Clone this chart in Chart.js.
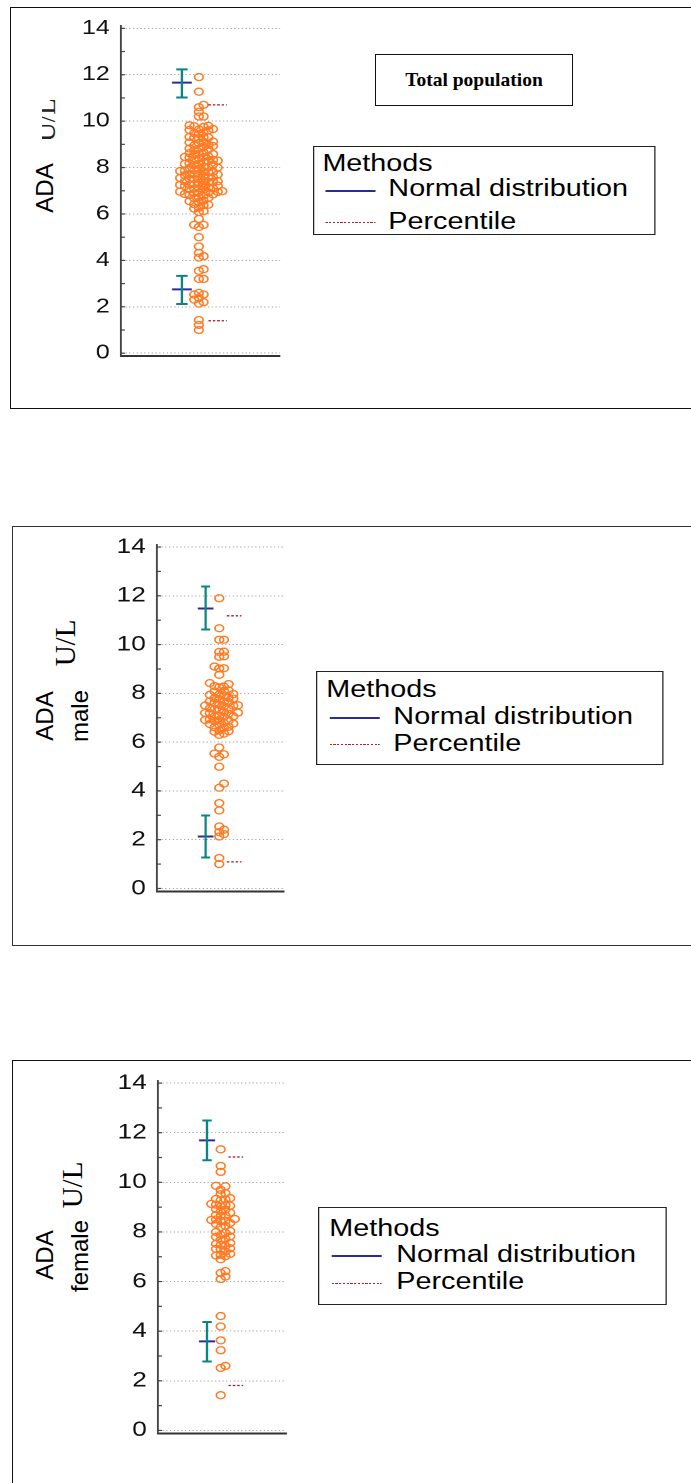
<!DOCTYPE html>
<html>
<head>
<meta charset="utf-8">
<title>ADA reference limits</title>
<script src="https://cdn.jsdelivr.net/npm/chart.js@4.4.1/dist/chart.umd.min.js"></script>
<style>
  html, body { margin: 0; padding: 0; background: #fff; overflow: hidden; }
  body { width: 691px; height: 1483px; position: relative; font-family: 'Liberation Sans', Arial, sans-serif; color: #000; }
  .frame { position: absolute; border: 1.5px solid #111; box-sizing: border-box; }
  .stretch { position: absolute; transform-origin: 0 0; transform: scaleX(1.25); }
  .legend { border: 1.5px solid #222; box-sizing: border-box; background: #fff; }
  .legend span { position: absolute; font-size: 23px; line-height: 1.117; white-space: nowrap; }
  .legend i { position: absolute; display: block; }
  .vlabel { position: absolute; transform: translate(-50%, -50%) rotate(-90deg); white-space: nowrap; }
  .sans { font-family: 'Liberation Sans', Arial, sans-serif; font-size: 24px; line-height: 1.117; }
  .serif { font-family: 'Liberation Serif', 'Times New Roman', serif; font-size: 29px; line-height: 1.107; }
  .clip { position: absolute; overflow: hidden; }
  .title { position: absolute; border: 1.5px solid #111; box-sizing: border-box; display: flex; align-items: center; justify-content: center; font: bold 19.5px 'Liberation Serif', 'Times New Roman', serif; }
</style>
</head>
<body>
<div class="frame" style="left:10px;top:7px;width:720px;height:401.5px"></div>
<div class="frame" style="left:12px;top:526px;width:720px;height:419.5px;border-color:#333"></div>
<div class="frame" style="left:12px;top:1060px;width:720px;height:600px"></div>

<div class="title" style="left:375px;top:54px;width:198px;height:52px">Total population</div>

<div class="vlabel sans" style="left:44.7px;top:188px">ADA</div>
<div class="clip" style="left:42px;top:85px;width:22px;height:70px">
  <div class="vlabel serif" style="left:5.2px;top:35px;font-size:27px;color:#222">U/L</div>
</div>

<div class="vlabel sans" style="left:44.7px;top:716px">ADA</div>
<div class="vlabel sans" style="left:79.7px;top:716px">male</div>
<div class="vlabel serif" style="left:65.2px;top:643px">U/L</div>

<div class="vlabel sans" style="left:44.7px;top:1255px">ADA</div>
<div class="vlabel sans" style="left:79.7px;top:1256px">female</div>
<div class="vlabel serif" style="left:72.2px;top:1185px">U/L</div>

<script>
// ADA activity (U/L), one dot per subject
const totalValues = [
  11.9, 11.27,
  10.7, 10.6, 10.4, 10.2, 10.2,
  9.82, 9.8, 9.78, 9.75,
  9.66, 9.64, 9.62, 9.6,
  9.5, 9.48, 9.45,
  9.32, 9.3, 9.3, 9.28, 9.25,
  9.12, 9.1, 9.08, 9.05,
  8.98, 8.95, 8.93, 8.9,
  8.82, 8.8, 8.78, 8.75,
  8.64, 8.62, 8.6, 8.58, 8.55,
  8.48, 8.46, 8.45, 8.43, 8.4,
  8.33, 8.3, 8.3, 8.28, 8.25,
  8.18, 8.16, 8.15, 8.13, 8.1,
  8.03, 8.0, 8.0, 7.98, 7.95,
  7.88, 7.86, 7.85, 7.84, 7.82, 7.8,
  7.73, 7.71, 7.7, 7.69, 7.67, 7.65,
  7.58, 7.56, 7.55, 7.54, 7.52, 7.5,
  7.43, 7.41, 7.4, 7.39, 7.37, 7.35,
  7.28, 7.26, 7.25, 7.24, 7.22, 7.2,
  7.13, 7.11, 7.1, 7.09, 7.07, 7.05,
  6.98, 6.96, 6.95, 6.94, 6.92, 6.9,
  6.86, 6.84, 6.82, 6.8,
  6.72, 6.7, 6.68,
  6.57, 6.55, 6.52,
  6.42, 6.4, 6.38,
  6.27, 6.23,
  6.12, 6.08,
  5.79, 5.53, 5.53, 5.44,
  5.0, 4.6, 4.32, 4.18, 4.12,
  3.62, 3.55, 3.2, 3.2,
  2.6, 2.53, 2.53, 2.38, 2.31, 2.2, 2.14,
  1.43, 1.22, 1.0
];

const maleValues = [
  11.9, 10.67, 10.2, 10.2, 9.71, 9.7, 9.52, 9.5, 9.1, 9.03, 9.02, 8.76,
  8.42, 8.38, 8.3, 8.28, 8.25,
  8.12, 8.1, 8.08,
  7.97, 7.95, 7.94, 7.92,
  7.82, 7.8, 7.79, 7.77,
  7.67, 7.65, 7.64, 7.62,
  7.53, 7.51, 7.5, 7.49, 7.47,
  7.38, 7.36, 7.35, 7.34,
  7.23, 7.21, 7.2, 7.19, 7.17,
  7.08, 7.06, 7.05, 7.04,
  6.93, 6.91, 6.9, 6.89, 6.87,
  6.78, 6.76, 6.74, 6.72,
  6.63, 6.61, 6.59,
  6.48, 6.45, 6.43,
  6.35, 6.3,
  5.78, 5.53, 5.5, 5.4, 4.99, 4.3, 4.13, 3.5, 3.2,
  2.54, 2.41, 2.31, 2.23, 2.13, 1.25, 1.0
];

const femaleValues = [
  11.33, 10.66, 10.42,
  9.86, 9.84, 9.7, 9.56, 9.52,
  9.36, 9.33, 9.31, 9.28,
  9.13, 9.1, 9.08, 9.06, 9.02,
  8.92, 8.9, 8.82, 8.78,
  8.68, 8.66, 8.64,
  8.52, 8.5, 8.48, 8.45, 8.43,
  8.36, 8.32, 8.24, 8.2,
  8.04, 8.0, 7.96,
  7.88, 7.82, 7.8,
  7.72, 7.68, 7.55, 7.52, 7.48, 7.44,
  7.34, 7.32, 7.3, 7.22,
  7.12, 7.08, 7.05, 7.02, 6.9,
  6.42, 6.35, 6.2, 6.1,
  4.61, 4.19, 3.63, 3.23, 2.6, 2.52, 1.42
];

// normal-distribution limits: [90% CI low, limit, 90% CI high]
const totalLowerLimit = [2.12, 2.75, 3.33];
const totalUpperLimit = [11.02, 11.66, 12.23];
const maleLowerLimit = [1.27, 2.13, 2.99];
const maleUpperLimit = [10.62, 11.48, 12.38];
const femaleLowerLimit = [2.78, 3.59, 4.37];
const femaleUpperLimit = [10.89, 11.69, 12.49];

// percentile limits: [2.5th, 97.5th]
const totalPercentiles = [1.4, 10.7];
const malePercentiles = [1.09, 11.18];
const femalePercentiles = [1.81, 11.02];

const yTicks = [0, 2, 4, 6, 8, 10, 12, 14];
const minorTickValues = [0, 1, 2, 3, 4, 5, 6, 7, 8, 9, 10, 11, 12, 13, 14];
const legendTitle = 'Methods';
const legendLabels = ['Normal distribution', 'Percentile'];

const SX = 1.25;        // the source figure is stretched sideways
const Y_AXIS_W = 60;    // canvas px kept for tick labels
const PAD_T = 14;
const PAD_B = 12;
const PAD_R = 8;
const DOT = '#ff7a22';
const TEAL = '#0f8383';
const BLUE = '#2c2c96';
const RED = '#9b1c1c';

// x positions as fractions of the plot width
const X_DOTS = 0.49;
const X_BAR = 0.383;
const CAP = 0.036;
const MEAN_HALF = 0.062;
const PCT_X = [0.55, 0.665];

const panels = [
  { values: totalValues, lower: totalLowerLimit, upper: totalUpperLimit, pct: totalPercentiles,
    axisLeft: 121, axisRight: 280, yTop: 25.7, yBottom: 356.1, yMin: -0.12, yMax: 14.1, tickSize: 20,
    legend: { left: 313, right: 655, top: 146, bottom: 235, textX: 389, titleX: 323, lineX: [326, 376],
      titleBase: 172, normLine: 191, normBase: 197, pctLine: 223, pctBase: 230 } },
  { values: maleValues, lower: maleLowerLimit, upper: maleUpperLimit, pct: malePercentiles,
    axisLeft: 157, axisRight: 284, yTop: 544.6, yBottom: 891.9, yMin: -0.12, yMax: 14.1, tickSize: 21,
    legend: { left: 316, right: 663, top: 671, bottom: 765, textX: 394, titleX: 327, lineX: [330, 381],
      titleBase: 698, normLine: 718, normBase: 725, pctLine: 745, pctBase: 752 } },
  { values: femaleValues, lower: femaleLowerLimit, upper: femaleUpperLimit, pct: femalePercentiles,
    axisLeft: 158, axisRight: 286, yTop: 1080.5, yBottom: 1433.3, yMin: -0.12, yMax: 14.1, tickSize: 21,
    legend: { left: 318, right: 667, top: 1207, bottom: 1305, textX: 397, titleX: 330, lineX: [332, 383],
      titleBase: 1237, normLine: 1256, normBase: 1263, pctLine: 1284, pctBase: 1290 } }
];

const minorTicks = {
  id: 'minorTicks',
  afterDraw(chart) {
    const { ctx, chartArea, scales } = chart;
    ctx.save();
    ctx.strokeStyle = '#444';
    ctx.lineWidth = 1.2;
    minorTickValues.forEach((v) => {
      const py = scales.y.getPixelForValue(v);
      ctx.beginPath();
      ctx.moveTo(chartArea.left - 1, py);
      ctx.lineTo(chartArea.left + 3, py);
      ctx.stroke();
    });
    ctx.restore();
  }
};

function seg(x1, y1, x2, y2, color, width, dash) {
  return {
    data: [{ x: x1, y: y1 }, { x: x2, y: y2 }],
    showLine: true, borderColor: color, borderWidth: width, borderDash: dash || [],
    pointRadius: 0, fill: false
  };
}

function limitMarks(limit) {
  const [lo, mid, hi] = limit;
  return [
    seg(X_BAR, lo, X_BAR, hi, TEAL, 1.8),
    seg(X_BAR - CAP, hi, X_BAR + CAP, hi, TEAL, 2),
    seg(X_BAR - CAP, lo, X_BAR + CAP, lo, TEAL, 2),
    seg(X_BAR - MEAN_HALF, mid, X_BAR + MEAN_HALF, mid, BLUE, 2)
  ];
}

// simple beeswarm: stack dots in columns, stepping out from the centre
function swarm(values, chart) {
  const xs = chart.scales.x, ys = chart.scales.y;
  const cx = xs.getPixelForValue(X_DOTS);
  const step = 4.7 / SX;
  const gap = 4.3;
  const placed = [];
  return [...values].sort((a, b) => a - b).map((v) => {
    const py = ys.getPixelForValue(v);
    let col = 0;
    for (let k = 0; k < 60; k += 1) {
      const c = k === 0 ? 0 : (k % 2 ? (k + 1) / 2 : -k / 2);
      if (!placed.some((p) => p.col === c && Math.abs(p.py - py) < gap)) { col = c; break; }
    }
    placed.push({ col, py });
    return { x: xs.getValueForPixel(cx + col * step), y: v };
  });
}

function chartConfig(p, padding, dots) {
  return {
    type: 'scatter',
    data: {
      datasets: [
        ...limitMarks(p.upper),
        ...limitMarks(p.lower),
        seg(PCT_X[0], p.pct[1], PCT_X[1], p.pct[1], RED, 1.3, [2, 1.5]),
        seg(PCT_X[0], p.pct[0], PCT_X[1], p.pct[0], RED, 1.3, [2, 1.5]),
        dots
      ]
    },
    options: {
      responsive: false,
      maintainAspectRatio: false,
      animation: false,
      devicePixelRatio: 2,
      events: [],
      layout: { padding },
      plugins: { legend: { display: false }, tooltip: { enabled: false } },
      scales: {
        x: {
          type: 'linear', min: 0, max: 1,
          ticks: { display: false },
          grid: { display: false },
          border: { display: true, color: '#333', width: 2 },
          afterFit: (s) => { s.height = 0; }
        },
        y: {
          type: 'linear', min: p.yMin, max: p.yMax,
          afterFit: (s) => { s.width = Y_AXIS_W; },
          afterBuildTicks: (s) => { s.ticks = yTicks.map((v) => ({ value: v })); },
          ticks: { color: '#111', padding: 9, font: { family: "'Liberation Sans', Arial, sans-serif", size: p.tickSize } },
          grid: { color: '#a3a3a3', lineWidth: 1, drawTicks: false },
          border: { display: true, color: '#444', width: 1.6, dash: [1, 2] }
        }
      }
    },
    plugins: [minorTicks]
  };
}

function newCanvas(wrap, w, h) {
  const canvas = document.createElement('canvas');
  canvas.width = w;
  canvas.height = h;
  wrap.appendChild(canvas);
  return canvas;
}

function buildChart(p) {
  const plotW = (p.axisRight - p.axisLeft) / SX;
  const plotH = p.yBottom - p.yTop;
  const w = Math.ceil(Y_AXIS_W + plotW + PAD_R);
  const h0 = Math.ceil(PAD_T + plotH + PAD_B);
  const padding = { top: PAD_T, left: 0, right: w - Y_AXIS_W - plotW, bottom: h0 - PAD_T - plotH };
  const wrap = document.createElement('div');
  wrap.className = 'stretch';
  wrap.style.left = (p.axisLeft - Y_AXIS_W * SX) + 'px';
  document.body.appendChild(wrap);

  // first pass: find how much room the axis labels take, then size the canvas to fit the plot
  let canvas = newCanvas(wrap, w, h0);
  let dots = { data: [] };
  let chart = new Chart(canvas, chartConfig(p, padding, dots));
  const area = chart.chartArea;
  const h = Math.round(h0 + plotH - (area.bottom - area.top));
  chart.destroy();
  canvas.remove();

  canvas = newCanvas(wrap, w, h);
  dots = {
    data: [], showLine: false, pointStyle: 'circle', pointRadius: 3.5, pointHoverRadius: 3.5,
    borderColor: DOT, pointBorderWidth: 1.3, backgroundColor: 'rgba(255,255,255,0)'
  };
  chart = new Chart(canvas, chartConfig(p, padding, dots));
  wrap.style.top = (p.yTop - chart.chartArea.top) + 'px';
  dots.data = swarm(p.values, chart);
  chart.update('none');
}

function buildLegend(b) {
  const box = document.createElement('div');
  box.className = 'stretch legend';
  box.style.left = b.left + 'px';
  box.style.top = b.top + 'px';
  box.style.width = ((b.right - b.left) / SX) + 'px';
  box.style.height = (b.bottom - b.top) + 'px';
  const lx = (x) => (x - b.left) / SX - 1.5;
  const ly = (y) => y - b.top - 1.5;
  const asc = 0.905 * 23;
  const text = (str, x, base) => {
    const s = document.createElement('span');
    s.textContent = str;
    s.style.left = lx(x) + 'px';
    s.style.top = (ly(base) - asc) + 'px';
    box.appendChild(s);
  };
  const line = (y, css) => {
    const i = document.createElement('i');
    i.style.cssText = css;
    i.style.left = lx(b.lineX[0]) + 'px';
    i.style.width = ((b.lineX[1] - b.lineX[0]) / SX) + 'px';
    i.style.top = (ly(y) - 1) + 'px';
    box.appendChild(i);
  };
  text(legendTitle, b.titleX, b.titleBase);
  line(b.normLine, 'height:2px;background:' + BLUE + ';');
  text(legendLabels[0], b.textX, b.normBase);
  line(b.pctLine, 'height:1.4px;background:repeating-linear-gradient(90deg,#b02424 0 1.8px,transparent 1.8px 3px);');
  text(legendLabels[1], b.textX, b.pctBase);
  document.body.appendChild(box);
}

panels.forEach((p) => {
  buildChart(p);
  buildLegend(p.legend);
});
</script>
</body>
</html>
